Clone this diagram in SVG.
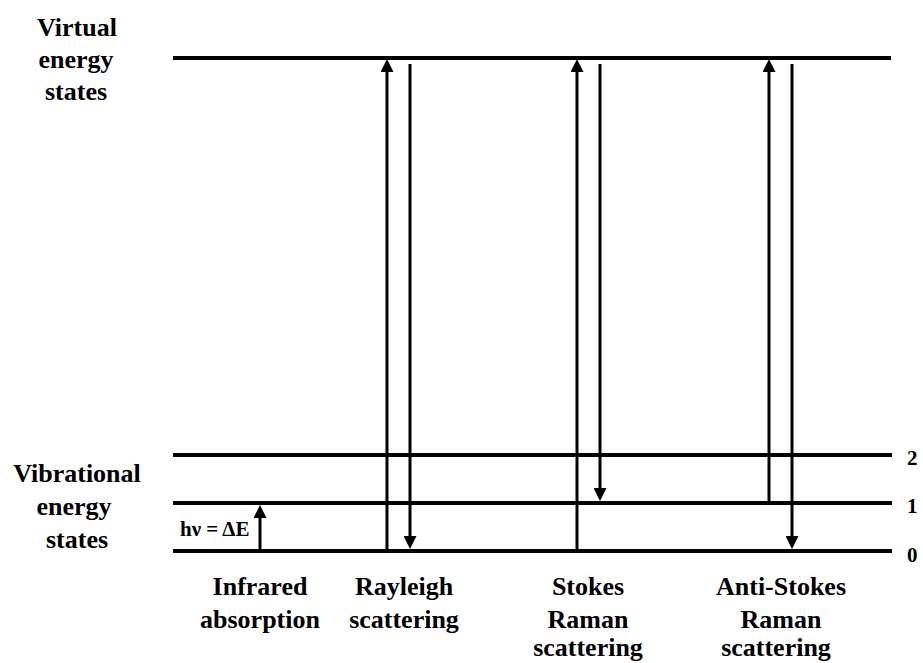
<svg xmlns="http://www.w3.org/2000/svg" width="923" height="663" viewBox="0 0 923 663" font-family="'Liberation Serif', 'DejaVu Serif', serif">
<style>
.lbl{font-weight:bold;font-size:26px;fill:#000;text-anchor:middle}
.num{font-weight:bold;font-size:21px;fill:#000}
.lvl{stroke:#000;stroke-width:4;fill:none}
.arr{stroke:#000;stroke-width:3;fill:none;marker-end:url(#ah)}
</style>
<defs>
<marker id="ah" markerUnits="userSpaceOnUse" markerWidth="13" markerHeight="13" refX="3" refY="6.5" orient="auto">
<path d="M0,0 L13,6.5 L0,13 z" fill="#000"/>
</marker>
</defs>
<rect width="923" height="663" fill="#fff"/>
<g id="levels">
<line class="lvl" x1="173" y1="58" x2="891" y2="58"/>
<line class="lvl" x1="173" y1="455" x2="892" y2="455"/>
<line class="lvl" x1="173" y1="503" x2="892" y2="503"/>
<line class="lvl" x1="173" y1="551" x2="892" y2="551"/>
</g>
<g id="virtual-label">
<text class="lbl" x="77" y="36">Virtual</text>
<text class="lbl" x="76" y="68">energy</text>
<text class="lbl" x="76" y="100">states</text>
</g>
<g id="vibrational-label">
<text class="lbl" x="77" y="482">Vibrational</text>
<text class="lbl" x="74" y="515">energy </text>
<text class="lbl" x="77" y="548">states</text>
</g>
<g id="level-numbers">
<text class="num" x="907" y="465">2</text>
<text class="num" x="907" y="513">1</text>
<text class="num" x="907" y="562">0</text>
</g>
<g id="connectors">
<line class="arr" x1="260" y1="549" x2="260" y2="515"/>
<line class="arr" x1="387" y1="549" x2="387" y2="69"/>
<line class="arr" x1="410" y1="64" x2="410" y2="539"/>
<line class="arr" x1="577" y1="549" x2="577" y2="69"/>
<line class="arr" x1="600" y1="64" x2="600" y2="491"/>
<line class="arr" x1="769" y1="501" x2="769" y2="69"/>
<line class="arr" x1="792" y1="64" x2="792" y2="539"/>
</g>
<g id="hv-label">
<text class="num" x="180" y="536" font-size="17">hν = ΔE</text>
</g>
<g id="infrared">
<text class="lbl" x="260" y="595">Infrared</text>
<text class="lbl" x="260" y="628">absorption</text>
</g>
<g id="rayleigh">
<text class="lbl" x="404" y="595">Rayleigh</text>
<text class="lbl" x="404" y="628">scattering</text>
</g>
<g id="stokes">
<text class="lbl" x="588" y="595">Stokes</text>
<text class="lbl" x="588" y="628">Raman</text>
<text class="lbl" x="588" y="656">scattering</text>
</g>
<g id="anti-stokes">
<text class="lbl" x="781" y="595">Anti-Stokes</text>
<text class="lbl" x="781" y="628">Raman</text>
<text class="lbl" x="776" y="656">scattering</text>
</g>
</svg>
